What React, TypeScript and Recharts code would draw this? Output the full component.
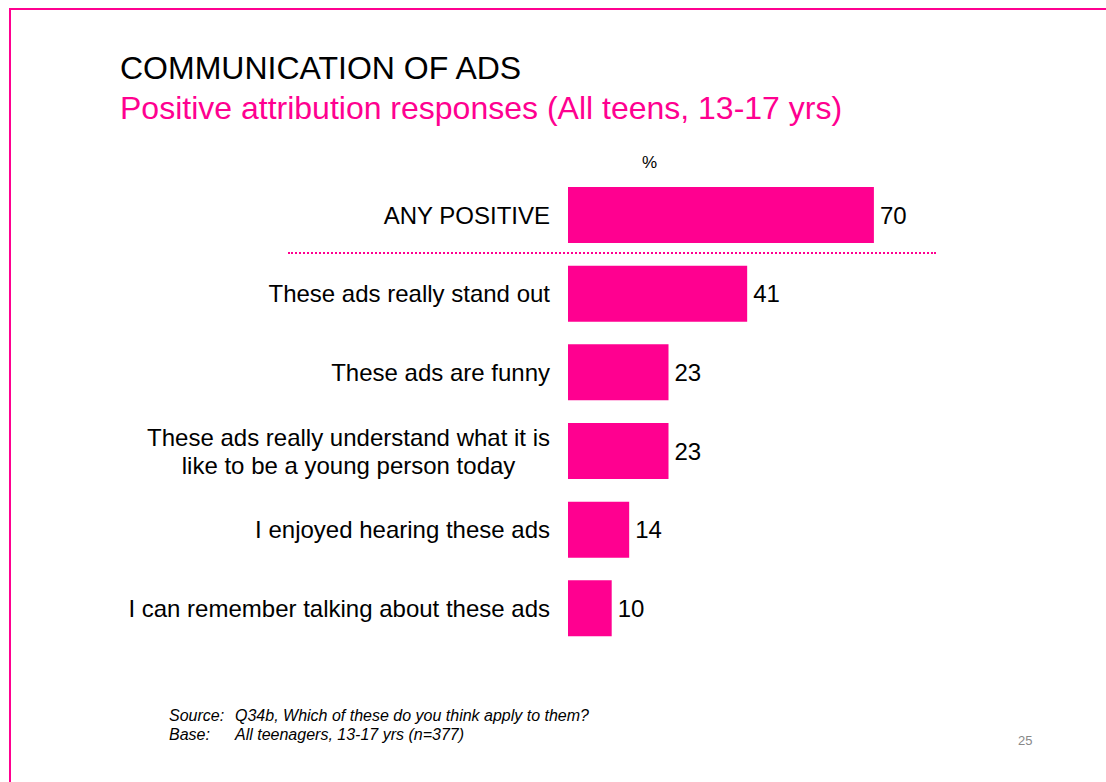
import React from "react";
import { BarChart, Bar, XAxis, YAxis, LabelList } from "recharts";

const categories = [
  "ANY POSITIVE",
  "These ads really stand out",
  "These ads are funny",
  "These ads really understand what it is\nlike to be a young person today",
  "I enjoyed hearing these ads",
  "I can remember talking about these ads",
];
const values = [70, 41, 23, 23, 14, 10];

const PINK = "#FF0090";
const FONT = "'Liberation Sans', Arial, sans-serif";
const LABEL_SIZE = 24;

const data = categories.map((c, i) => ({ label: c, value: values[i] }));

let measureCtx: CanvasRenderingContext2D | null = null;
function measure(text: string, size: number): number {
  if (!measureCtx) {
    const c = document.createElement("canvas");
    measureCtx = c.getContext("2d");
  }
  if (!measureCtx) return text.length * size * 0.5;
  measureCtx.font = `${size}px 'Liberation Sans', Arial, sans-serif`;
  return measureCtx.measureText(text).width;
}

const CategoryTick = (props: any) => {
  const { x, y, payload } = props;
  const lines: string[] = String(payload.value).split("\n");
  if (lines.length === 1) {
    return (
      <text x={x} y={y} dy="0.35em" textAnchor="end" fill="#000" fontSize={LABEL_SIZE} fontFamily={FONT}>
        {lines[0]}
      </text>
    );
  }
  const maxW = Math.max(...lines.map((l) => measure(l, LABEL_SIZE)));
  const cx = x - maxW / 2;
  const lh = 28;
  const start = -((lines.length - 1) * lh) / 2;
  return (
    <text x={cx} y={y} textAnchor="middle" fill="#000" fontSize={LABEL_SIZE} fontFamily={FONT}>
      {lines.map((l, i) => (
        <tspan key={i} x={cx} y={y + start + i * lh} dy="0.35em">
          {l}
        </tspan>
      ))}
    </text>
  );
};

export default function App() {
  return (
    <div
      style={{
        position: "absolute",
        left: 0,
        top: 0,
        width: 1106,
        height: 782,
        overflow: "hidden",
        background: "#fff",
        fontFamily: FONT,
      }}
    >
      <div
        style={{
          position: "absolute",
          left: 9,
          top: 8,
          width: 1300,
          height: 1000,
          border: `2px solid ${PINK}`,
        }}
      />
      <div style={{ position: "absolute", left: 120, top: 50, fontSize: 32, lineHeight: "37px", color: "#000", whiteSpace: "nowrap" }}>
        COMMUNICATION OF ADS
      </div>
      <div style={{ position: "absolute", left: 120, top: 90, fontSize: 32, lineHeight: "37px", color: PINK, whiteSpace: "nowrap" }}>
        Positive attribution responses (All teens, 13-17 yrs)
      </div>
      <div style={{ position: "absolute", left: 642, top: 153, fontSize: 17, color: "#000" }}>%</div>

      <div style={{ position: "absolute", left: 0, top: 0 }}>
        <BarChart
          width={1106}
          height={782}
          data={data}
          layout="vertical"
          margin={{ top: 176, right: 101, bottom: 134, left: 0 }}
          barSize={56}
        >
          <XAxis type="number" domain={[0, 100]} hide />
          <YAxis
            type="category"
            dataKey="label"
            width={568}
            axisLine={false}
            tickLine={false}
            tickSize={0}
            tickMargin={18}
            interval={0}
            tick={<CategoryTick />}
          />
          <Bar dataKey="value" fill={PINK} isAnimationActive={false}>
            <LabelList dataKey="value" position="right" offset={6} fill="#000" fontSize={24} fontFamily={FONT} />
          </Bar>
        </BarChart>
      </div>

      <div
        style={{
          position: "absolute",
          left: 288,
          top: 252,
          width: 648,
          height: 0,
          borderTop: `2px dotted ${PINK}`,
        }}
      />

      <div style={{ position: "absolute", left: 169, top: 706, fontSize: 16, fontStyle: "italic", color: "#000", lineHeight: "19px" }}>
        <div style={{ display: "flex" }}>
          <span style={{ width: 66, display: "inline-block" }}>Source:</span>
          <span>Q34b, Which of these do you think apply to them?</span>
        </div>
        <div style={{ display: "flex" }}>
          <span style={{ width: 66, display: "inline-block" }}>Base:</span>
          <span>All teenagers, 13-17 yrs (n=377)</span>
        </div>
      </div>
      <div style={{ position: "absolute", left: 1018, top: 733, fontSize: 13, color: "#888" }}>25</div>
    </div>
  );
}
